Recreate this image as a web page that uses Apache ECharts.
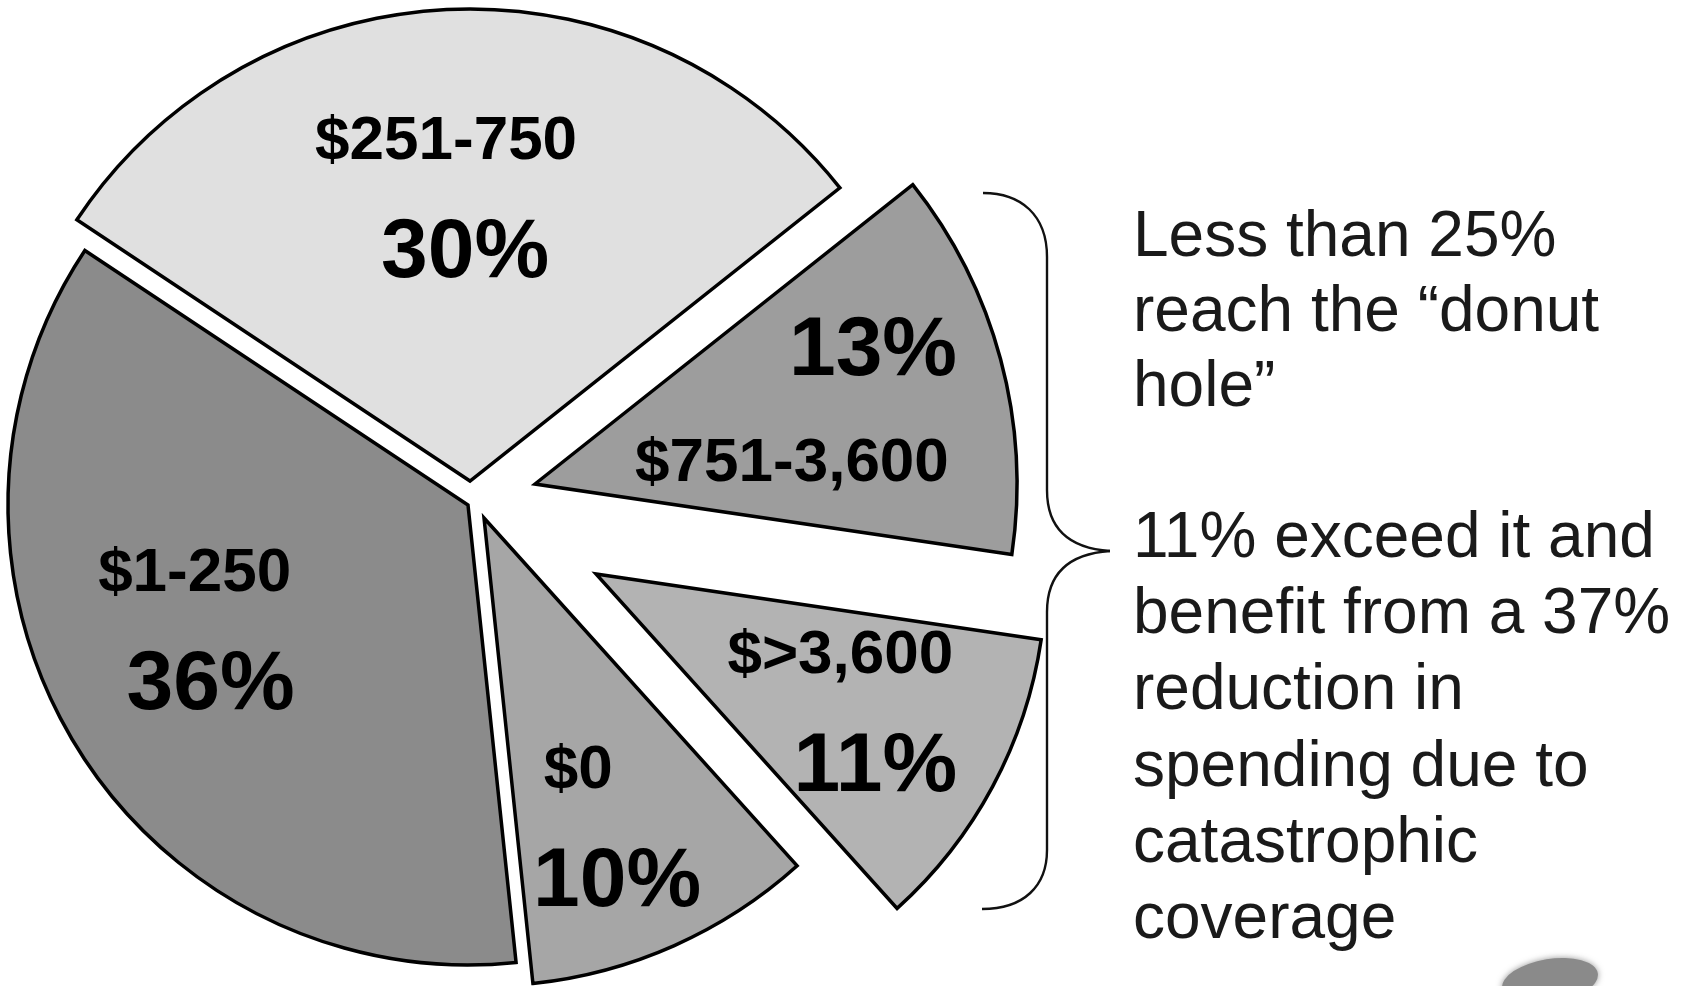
<!DOCTYPE html>
<html>
<head>
<meta charset="utf-8">
<script src="https://cdn.jsdelivr.net/npm/echarts@6/dist/echarts.min.js"></script>
<style>
  html, body { margin: 0; padding: 0; background: #ffffff; }
  #chart { width: 1686px; height: 986px; }
</style>
</head>
<body>
<div id="chart"></div>
<script>
// Spending brackets, listed clockwise starting from the bottom of the pie
const categories = ['$1-250', '$251-750', '$751-3,600', '$>3,600', '$0'];
const shares = [36, 30, 13, 11, 10];
// true: the percentage sits above the bracket name
const percentFirst = [false, false, true, false, false];

const noteTop = ['Less than 25%', 'reach the \u201cdonut', 'hole\u201d'];
const noteBottom = ['11% exceed it and', 'benefit from a 37%', 'reduction in',
  'spending due to', 'catastrophic', 'coverage'];

// Drawing style of each slice: fill, exploded centre, radius,
// label ring fraction, label nudge and how far the name sits left of the percentage
const sliceStyle = [
  { color: '#8b8b8b', center: [468, 505], radius: 460, labelAt: 0.617, nudge: [-12, -16], stagger: 16 },
  { color: '#e0e0e0', center: [470, 481], radius: 472, labelAt: 0.596, nudge: [7, 9], stagger: 19 },
  { color: '#9d9d9d', center: [535, 484], radius: 482, labelAt: 0.724, nudge: [-2, 7], stagger: 81 },
  { color: '#b3b3b3', center: [596, 574], radius: 450, labelAt: 0.68, nudge: [7, 0], stagger: 35 },
  { color: '#a6a6a6', center: [484, 518], radius: 468, labelAt: 0.709, nudge: [-3, 11], stagger: 39 }
];

const START_ANGLE = 276;
const FONT = '"Liberation Sans", Arial, Helvetica, sans-serif';
const HIDDEN = { color: 'rgba(0,0,0,0)', borderWidth: 0 };

const chart = echarts.init(document.getElementById('chart'), null, { renderer: 'canvas' });

const series = [];
categories.forEach((name, k) => {
  const st = sliceStyle[k];
  // the slice itself: the other items stay in the data so the angles stay true
  series.push({
    type: 'pie',
    center: st.center,
    radius: [0, st.radius],
    startAngle: START_ANGLE,
    clockwise: true,
    silent: true,
    animation: false,
    z: 2,
    label: { show: false },
    labelLine: { show: false },
    data: categories.map((n, i) => ({
      name: n,
      value: shares[i],
      itemStyle: i === k
        ? { color: st.color, borderColor: '#000', borderWidth: 3.5, borderJoin: 'miter', borderMiterLimit: 10 }
        : HIDDEN
    }))
  });
  // a transparent ring whose inside label lands at the wanted distance
  const pct = shares[k] + '%';
  const text = percentFirst[k]
    ? '{p|' + pct + '}\n{n|' + name + '}'
    : '{n|' + name + '}\n{p|' + pct + '}';
  series.push({
    type: 'pie',
    center: st.center,
    radius: [st.radius * (2 * st.labelAt - 1), st.radius],
    startAngle: START_ANGLE,
    clockwise: true,
    silent: true,
    animation: false,
    avoidLabelOverlap: false,
    z: 3,
    itemStyle: HIDDEN,
    labelLine: { show: false },
    labelLayout: { dx: st.nudge[0], dy: st.nudge[1] },
    data: categories.map((n, i) => ({
      name: n,
      value: shares[i],
      itemStyle: HIDDEN,
      label: i === k ? {
        show: true,
        position: 'inside',
        formatter: text,
        textBorderWidth: 0,
        rich: {
          n: {
            fontFamily: FONT, fontWeight: 'bold', fontSize: 62, color: '#000',
            lineHeight: 96, align: 'center', padding: [0, 2 * st.stagger, 0, 0]
          },
          p: { fontFamily: FONT, fontWeight: 'bold', fontSize: 84, color: '#000', lineHeight: 128, align: 'center' }
        }
      } : { show: false }
    }))
  });
});

// curly brace grouping the two upper-bracket slices
const braceStyle = { stroke: '#111', lineWidth: 2.4, fill: null };
const braceCurves = [
  [983, 193, 1021, 193, 1047, 215, 1047, 257],
  [1047, 490, 1047, 526, 1066, 548, 1110, 551],
  [1110, 551, 1066, 554, 1047, 576, 1047, 612],
  [1047, 850, 1047, 886, 1024, 909, 982, 909]
];
const braceLines = [[1047, 257, 1047, 490], [1047, 612, 1047, 850]];

const graphics = [];
braceCurves.forEach(c => graphics.push({
  type: 'bezierCurve', silent: true,
  shape: { x1: c[0], y1: c[1], cpx1: c[2], cpy1: c[3], cpx2: c[4], cpy2: c[5], x2: c[6], y2: c[7] },
  style: braceStyle
}));
braceLines.forEach(l => graphics.push({
  type: 'line', silent: true,
  shape: { x1: l[0], y1: l[1], x2: l[2], y2: l[3] },
  style: braceStyle
}));
graphics.push(
  {
    type: 'text', x: 1133, y: 201, silent: true,
    style: {
      text: noteTop.join('\n'),
      fontFamily: FONT, fontSize: 64, lineHeight: 75,
      fill: '#1a1a1a', verticalAlign: 'top', align: 'left'
    }
  },
  {
    type: 'text', x: 1133, y: 501, silent: true,
    style: {
      text: noteBottom.join('\n'),
      fontFamily: FONT, fontSize: 64, lineHeight: 76.3,
      fill: '#1a1a1a', verticalAlign: 'top', align: 'left'
    }
  },
  {
    // pencil smudge in the lower right corner
    type: 'circle', silent: true,
    x: 1550, y: 981, scaleX: 2.2, scaleY: 1, rotation: 0.16,
    shape: { cx: 0, cy: 0, r: 22 },
    style: { fill: '#8a8a8a', shadowBlur: 6, shadowColor: 'rgba(120,120,120,0.8)' }
  }
);

chart.setOption({
  backgroundColor: '#ffffff',
  animation: false,
  series: series,
  graphic: { elements: graphics }
});
</script>
</body>
</html>
